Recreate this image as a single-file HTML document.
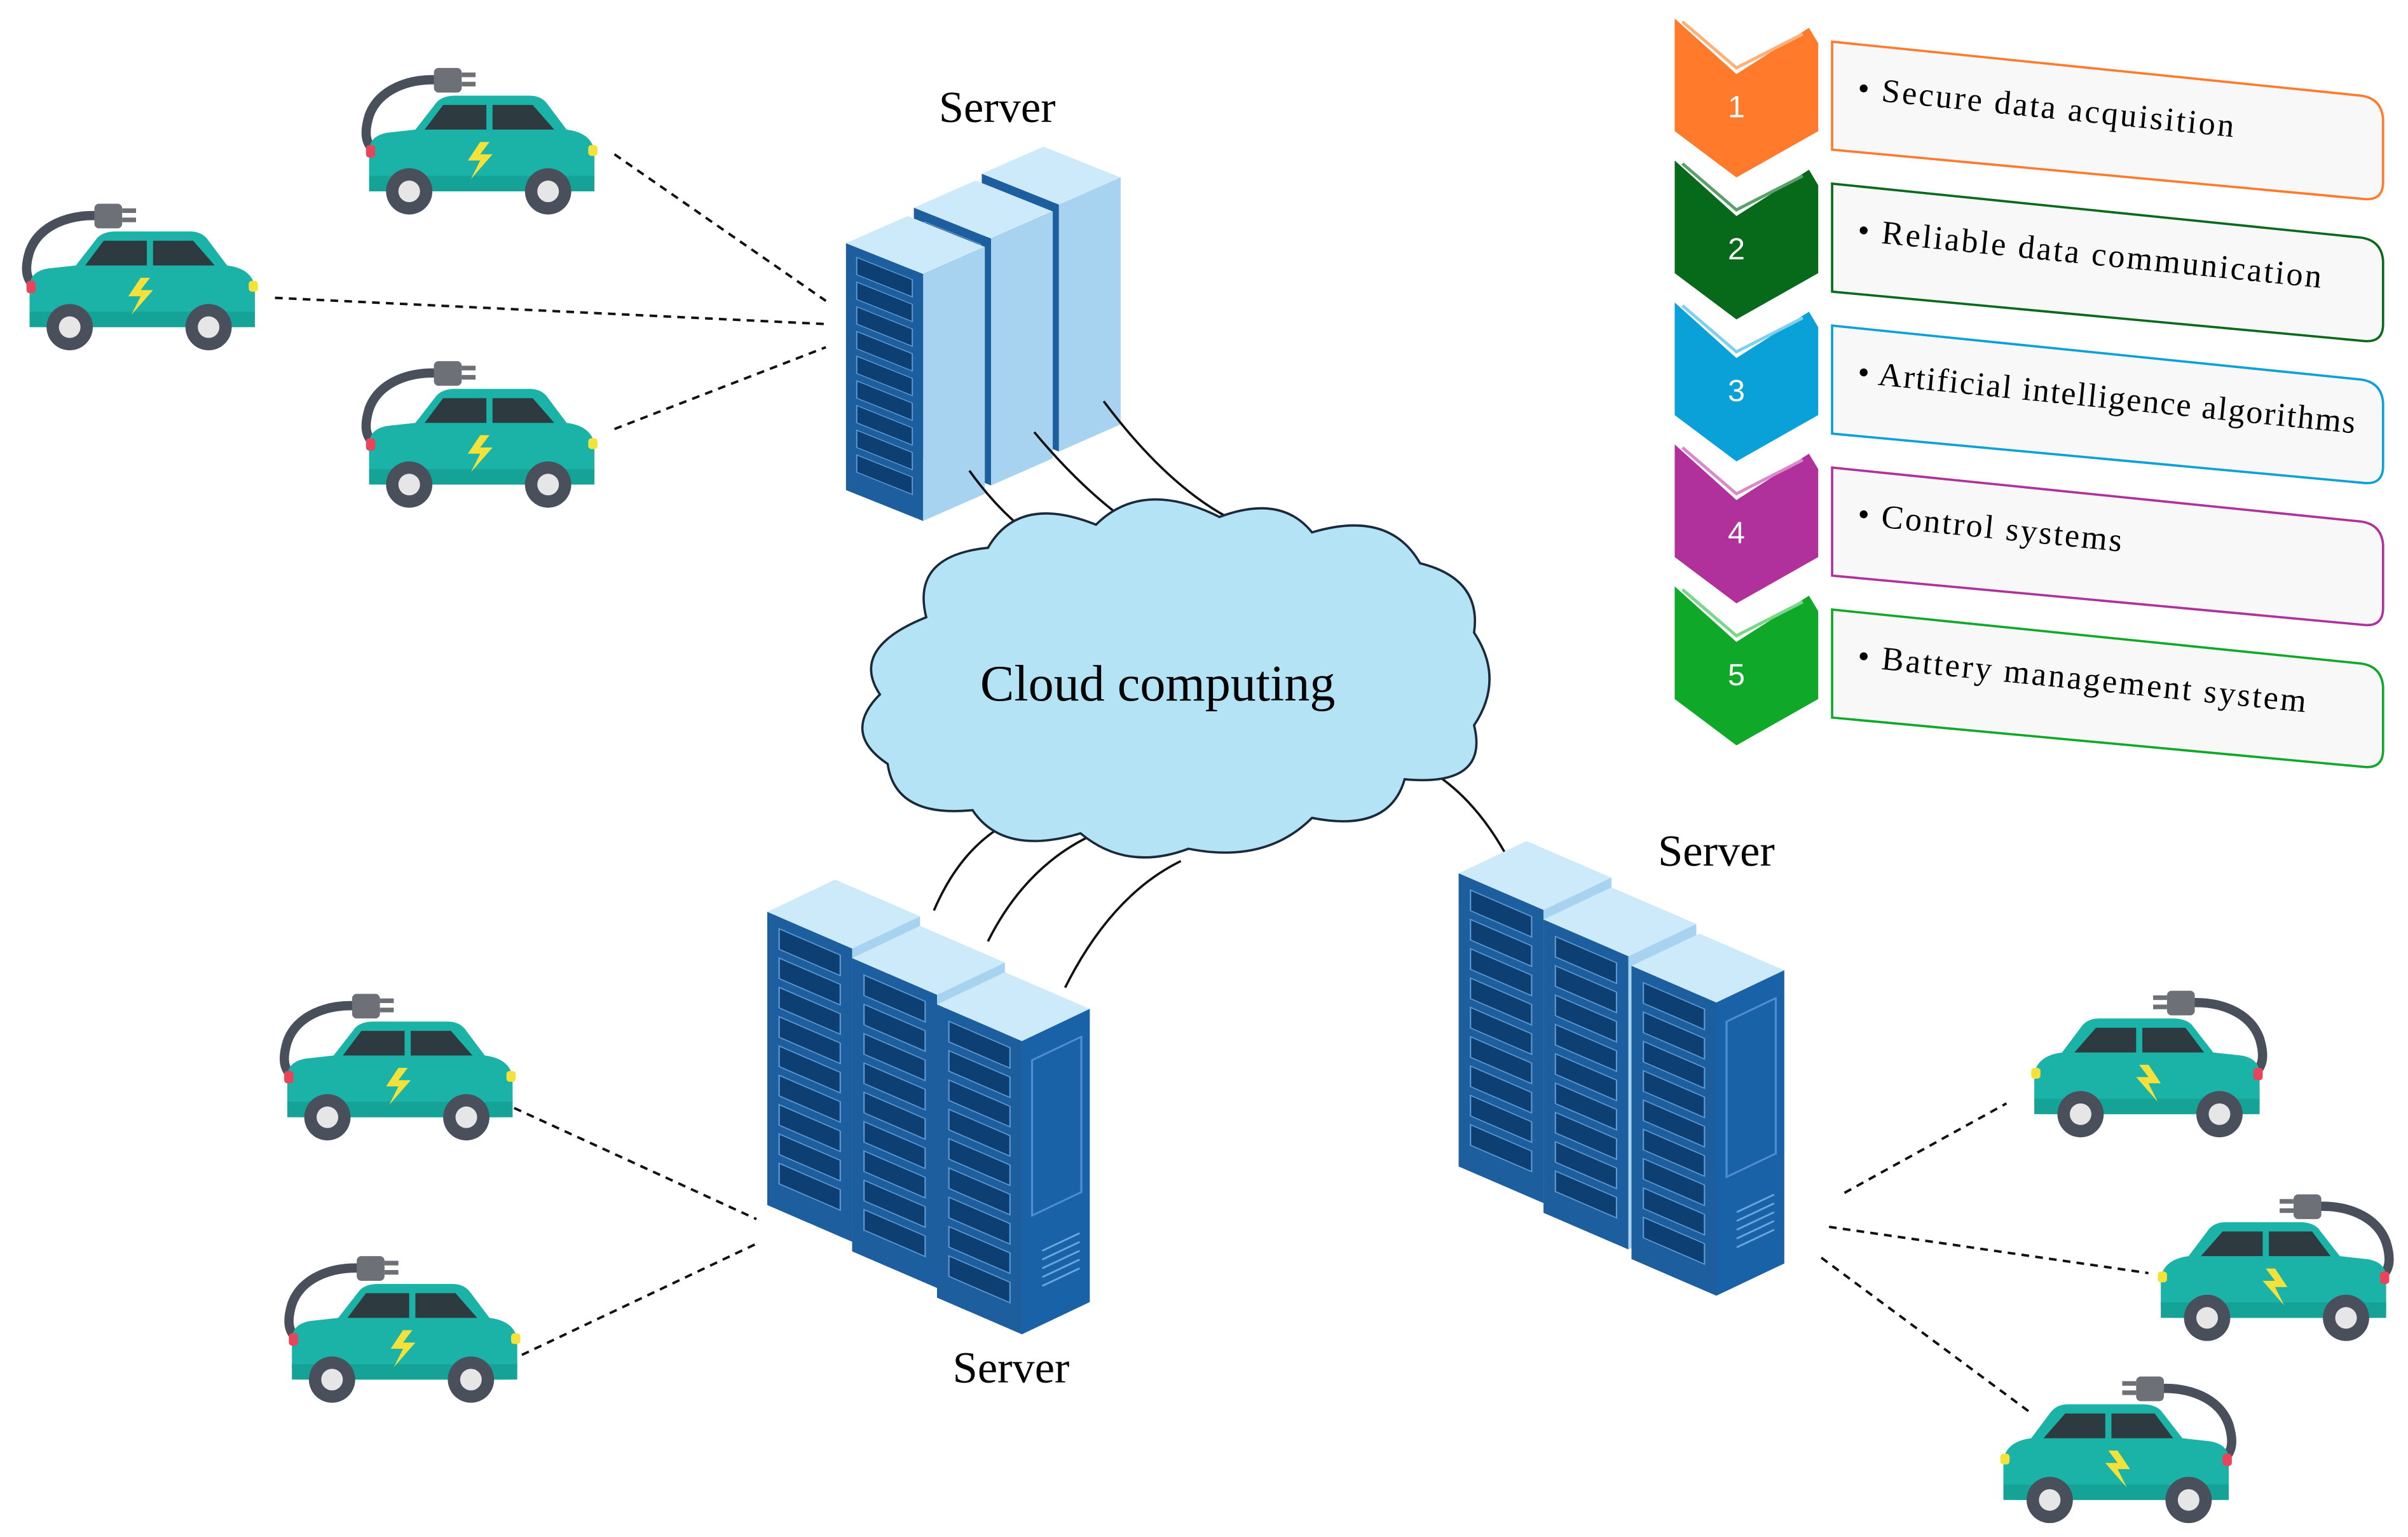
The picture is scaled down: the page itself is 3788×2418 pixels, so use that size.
<!DOCTYPE html>
<html><head><meta charset="utf-8"><style>html,body{margin:0;padding:0;background:#fff}svg{display:block}</style></head>
<body>
<svg xmlns="http://www.w3.org/2000/svg" width="3788" height="2418" viewBox="0 0 1560 996">
<defs>
<g id="car">
  <path d="M62,12 C40,10 20,18 14,35 C10,48 12,56 22,60" fill="none" stroke="#4a4f5c" stroke-width="6"/>
  <rect x="56" y="4" width="18" height="16" rx="3" fill="#6d7077"/>
  <rect x="74" y="7" width="9" height="3" fill="#6d7077"/><rect x="74" y="13" width="9" height="3" fill="#6d7077"/>
  <path d="M14,58 Q14,48 26,46 L44,44 L58,26 Q62,22 70,22 L118,22 Q126,22 130,28 L142,44 Q158,46 160,58 L160,76 Q160,84 152,84 L22,84 Q14,84 14,76 Z" fill="#1bb3a8"/>
  <path d="M50,44 L62,28 L90,28 L90,44 Z" fill="#2d3a40"/>
  <path d="M94,28 L120,28 L134,44 L94,44 Z" fill="#2d3a40"/>
  <rect x="14" y="74" width="146" height="10" fill="#14a396"/>
  <rect x="12" y="54" width="6" height="8" rx="2" fill="#e8455a"/>
  <rect x="156" y="54" width="6" height="7" rx="2" fill="#f4e23a"/>
  <path d="M86,52 L78,64 L86,64 L80,76 L94,60 L86,60 L92,52 Z" fill="#f4e23a"/>
  <circle cx="40" cy="84" r="15" fill="#4a4f5c"/><circle cx="40" cy="84" r="7" fill="#e6e6e6"/>
  <circle cx="130" cy="84" r="15" fill="#4a4f5c"/><circle cx="130" cy="84" r="7" fill="#e6e6e6"/>
</g>
<g id="tower">
  <polygon points="0,22 40,0 90,25 50,47" fill="#cdeafb"/>
  <polygon points="0,22 50,47 50,247 0,222" fill="#1d5f9e"/>
  <polygon points="50,47 90,25 90,225 50,247" fill="#a7d3f1"/>
  <g transform="skewY(26.57)" fill="#0d3f73" stroke="#5d9ad3" stroke-width="0.8">
    <rect x="7" y="30" width="36" height="14"/><rect x="7" y="50" width="36" height="14"/>
    <rect x="7" y="70" width="36" height="14"/><rect x="7" y="90" width="36" height="14"/>
    <rect x="7" y="110" width="36" height="14"/><rect x="7" y="130" width="36" height="14"/>
    <rect x="7" y="150" width="36" height="14"/><rect x="7" y="170" width="36" height="14"/>
    <rect x="7" y="190" width="36" height="14"/>
  </g>
</g>
<g id="front">
  <polygon points="50,47 90,25 90,225 50,247" fill="#1a62a8"/>
  <polygon points="56,60 85,44 85,150 56,166" fill="none" stroke="#4f8fd0" stroke-width="1.2"/>
  <g stroke="#6aa6de" stroke-width="1.2">
    <line x1="62" y1="190" x2="84" y2="178"/><line x1="62" y1="196" x2="84" y2="184"/>
    <line x1="62" y1="202" x2="84" y2="190"/><line x1="62" y1="208" x2="84" y2="196"/>
    <line x1="62" y1="214" x2="84" y2="202"/>
  </g>
</g>
</defs>

<g stroke="#111" stroke-width="1.6" stroke-dasharray="5,4" fill="none">
  <line x1="398" y1="100" x2="535" y2="195"/>
  <line x1="178" y1="193" x2="535" y2="210"/>
  <line x1="398" y1="278" x2="535" y2="225"/>
  <line x1="333" y1="718" x2="490" y2="790"/>
  <line x1="338" y1="878" x2="492" y2="805"/>
  <line x1="1195" y1="773" x2="1300" y2="715"/>
  <line x1="1185" y1="795" x2="1392" y2="825"/>
  <line x1="1180" y1="815" x2="1315" y2="915"/>
</g>

<g transform="translate(636,95) scale(1,0.8)"><use href="#tower"/></g>
<g transform="translate(592,117) scale(1,0.8)"><use href="#tower"/></g>
<g transform="translate(548,140) scale(1,0.8)"><use href="#tower"/></g>

<g stroke="#111" stroke-width="1.5" fill="none">
  <path d="M628,305 Q660,350 705,368"/>
  <path d="M670,280 Q720,340 770,360"/>
  <path d="M715,260 Q760,320 805,340"/>
  <path d="M605,590 Q620,555 645,538"/>
  <path d="M640,610 Q665,560 710,540"/>
  <path d="M690,640 Q720,580 765,558"/>
  <path d="M912,492 Q955,510 982,566"/>
</g>

<path d="M600,400 Q590,360 640,355 Q660,320 710,340 Q740,310 790,335 Q830,320 850,345 Q900,330 920,365 Q960,375 955,410 Q975,440 955,470 Q965,510 910,505 Q900,540 850,530 Q820,560 770,550 Q730,565 700,540 Q650,555 630,525 Q580,530 575,495 Q545,475 570,450 Q550,420 600,400 Z" fill="#b3e3f5" stroke="#1a2a3a" stroke-width="1.5"/>
<text x="750" y="454" font-family="Liberation Serif, serif" font-size="33" text-anchor="middle" fill="#000">Cloud computing</text>

<g transform="translate(497,570) scale(1.1,0.95)"><use href="#tower"/></g>
<g transform="translate(552,600) scale(1.1,0.95)"><use href="#tower"/></g>
<g transform="translate(607,630) scale(1.1,0.95)"><use href="#tower"/><use href="#front"/></g>
<g transform="translate(945,545) scale(1.1,0.95)"><use href="#tower"/></g>
<g transform="translate(1000,575) scale(1.1,0.95)"><use href="#tower"/></g>
<g transform="translate(1057,605) scale(1.1,0.95)"><use href="#tower"/><use href="#front"/></g>

<g font-family="Liberation Serif, serif" font-size="29" fill="#000" text-anchor="middle">
  <text x="646" y="79">Server</text>
  <text x="1112" y="561">Server</text>
  <text x="655" y="896">Server</text>
</g>

<use href="#car" transform="translate(225,40)"/>
<use href="#car" transform="translate(5,128)"/>
<use href="#car" transform="translate(225,230)"/>
<use href="#car" transform="translate(172,640)"/>
<use href="#car" transform="translate(175,810)"/>
<use href="#car" transform="translate(1478,638) scale(-1,1)"/>
<use href="#car" transform="translate(1560,770) scale(-1,1)"/>
<use href="#car" transform="translate(1458,888) scale(-1,1)"/>

<g font-family="Liberation Serif, serif">
  <g>
    <polygon points="1085,12 1125,48 1172,18 1178,28 1178,85 1125,115 1085,85" fill="#ff7a2a"/>
    <polyline points="1090,14 1125,44 1168,22" fill="none" stroke="#ffb07a" stroke-width="2"/>
    <text x="1125" y="76" font-family="Liberation Sans, sans-serif" font-size="20" fill="#fff" text-anchor="middle">1</text>
    <path d="M1187,27 L1530,62 Q1543,64 1544,77 L1544,118 Q1544,130 1532,129 L1187,97 Z" fill="#f8f8f8" stroke="#ff7a2a" stroke-width="1.5"/>
    <text transform="translate(1203,64) rotate(5.8)" font-size="21.5" textLength="245">• Secure data acquisition</text>
  </g>
  <g transform="translate(0,92)">
    <polygon points="1085,12 1125,48 1172,18 1178,28 1178,85 1125,115 1085,85" fill="#076a1a"/>
    <polyline points="1090,14 1125,44 1168,22" fill="none" stroke="#5aa06a" stroke-width="2"/>
    <text x="1125" y="76" font-family="Liberation Sans, sans-serif" font-size="20" fill="#fff" text-anchor="middle">2</text>
    <path d="M1187,27 L1530,62 Q1543,64 1544,77 L1544,118 Q1544,130 1532,129 L1187,97 Z" fill="#f8f8f8" stroke="#076a1a" stroke-width="1.5"/>
    <text transform="translate(1203,64) rotate(5.8)" font-size="21.5" textLength="302">• Reliable data communication</text>
  </g>
  <g transform="translate(0,184)">
    <polygon points="1085,12 1125,48 1172,18 1178,28 1178,85 1125,115 1085,85" fill="#0aa0d8"/>
    <polyline points="1090,14 1125,44 1168,22" fill="none" stroke="#7fd0f0" stroke-width="2"/>
    <text x="1125" y="76" font-family="Liberation Sans, sans-serif" font-size="20" fill="#fff" text-anchor="middle">3</text>
    <path d="M1187,27 L1530,62 Q1543,64 1544,77 L1544,118 Q1544,130 1532,129 L1187,97 Z" fill="#f8f8f8" stroke="#0aa0d8" stroke-width="1.5"/>
    <text transform="translate(1203,64) rotate(5.8)" font-size="21.5" textLength="324">• Artificial intelligence algorithms</text>
  </g>
  <g transform="translate(0,276)">
    <polygon points="1085,12 1125,48 1172,18 1178,28 1178,85 1125,115 1085,85" fill="#b0309c"/>
    <polyline points="1090,14 1125,44 1168,22" fill="none" stroke="#d88acb" stroke-width="2"/>
    <text x="1125" y="76" font-family="Liberation Sans, sans-serif" font-size="20" fill="#fff" text-anchor="middle">4</text>
    <path d="M1187,27 L1530,62 Q1543,64 1544,77 L1544,118 Q1544,130 1532,129 L1187,97 Z" fill="#f8f8f8" stroke="#b0309c" stroke-width="1.5"/>
    <text transform="translate(1203,64) rotate(5.8)" font-size="21.5" textLength="172">• Control systems</text>
  </g>
  <g transform="translate(0,368)">
    <polygon points="1085,12 1125,48 1172,18 1178,28 1178,85 1125,115 1085,85" fill="#10a828"/>
    <polyline points="1090,14 1125,44 1168,22" fill="none" stroke="#7ad68a" stroke-width="2"/>
    <text x="1125" y="76" font-family="Liberation Sans, sans-serif" font-size="20" fill="#fff" text-anchor="middle">5</text>
    <path d="M1187,27 L1530,62 Q1543,64 1544,77 L1544,118 Q1544,130 1532,129 L1187,97 Z" fill="#f8f8f8" stroke="#10a828" stroke-width="1.5"/>
    <text transform="translate(1203,64) rotate(5.8)" font-size="21.5" textLength="292">• Battery management system</text>
  </g>
</g>
</svg>
</body></html>
